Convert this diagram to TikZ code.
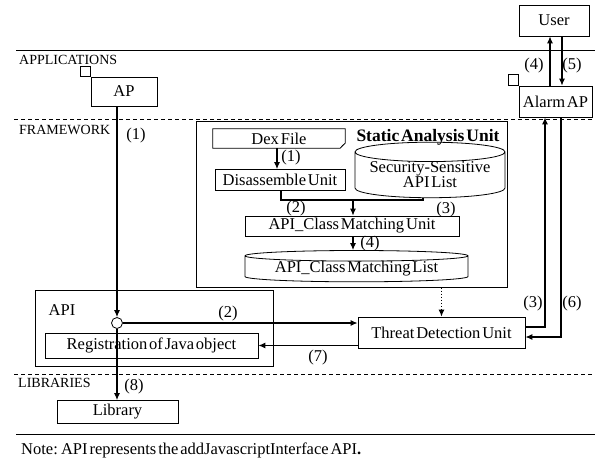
\documentclass[tikz,border=0pt]{standalone}
\usepackage{fontspec}
\setmainfont[WordSpace=0.45]{Liberation Serif}
\usetikzlibrary{arrows.meta,shapes.geometric}

\tikzset{
    box/.style={draw, line width=0.8pt, inner sep=0pt},
    cyl/.style={draw, line width=0.8pt, cylinder, shape border rotate=90, aspect=0.16, inner sep=0pt},
    flow/.style={line width=1.1pt, -{Latex[length=7pt,width=6pt]}},
    plain/.style={line width=1.1pt},
    layer/.style={line width=0.8pt},
    tag/.style={anchor=west, inner sep=0pt, font=\fontsize{14}{16}\selectfont},
    num/.style={inner sep=0pt}
}

\begin{document}
\begin{tikzpicture}[x=1pt, y=-1pt, font=\fontsize{16.5}{18}\selectfont]
    \useasboundingbox (0,0) rectangle (595,459);

    % layers
    \draw[layer] (16,50) -- (595,50);
    \draw[layer, dash pattern=on 4pt off 3pt] (14,119) -- (595,119);
    \draw[layer, dash pattern=on 4pt off 3pt] (14,374) -- (595,374);
    \draw[layer] (16,434) -- (595,434);
    \node[tag] (lapp) at (19,60) {APPLICATIONS};
    \node[tag] (lfw) at (19,130) {FRAMEWORK};
    \node[tag] (llib) at (18,383) {LIBRARIES};
    \node[anchor=west, inner sep=0pt] (note) at (21,450) {Note: API represents the addJavascriptInterface API\textbf{.}};

    % applications
    \node[box, minimum width=70, minimum height=31] (user) at (554,20.5) {User};
    \node[box, minimum width=73, minimum height=31] (alarm) at (555.5,101.5) {Alarm AP};
    \draw[line width=0.8pt] (alarm.north west) rectangle ++(-10,-11);
    \node[box, minimum width=66, minimum height=29] (ap) at (124,91.5) {AP};
    \draw[line width=0.8pt] (ap.north west) rectangle ++(-10,-10);

    % static analysis unit
    \node[box, minimum width=311, minimum height=166] (sau) at (351.5,204) {};
    \node[num, font=\fontsize{17.5}{19}\selectfont\bfseries] (saut) at (428,137) {Static Analysis Unit};
    \node[minimum width=132, minimum height=19, inner sep=0pt] (dex) at (279,138.5) {Dex File};
    \draw[line width=0.8pt] (dex.north west) -- (dex.north east) -- ([yshift=5pt]dex.south east)
        -- ([xshift=-5pt]dex.south east) -- (dex.south west) -- cycle;
    \fill ([yshift=5pt]dex.south east) -- ([xshift=-5pt]dex.south east) -- ([xshift=-3pt,yshift=3pt]dex.south east) -- cycle;
    \node[box, minimum width=130, minimum height=21] (disasm) at (280,180) {Disassemble Unit};
    \node[cyl, minimum width=150, minimum height=44, align=center] (secapi) at (430,175)
        {Security-Sensitive\\[-3pt]API List};
    \node[box, minimum width=214, minimum height=20] (matchunit) at (352,226) {API\_Class Matching Unit};
    \node[cyl, aspect=0.065, minimum width=223, minimum height=30] (matchlist) at (356.5,269) {API\_Class Matching List};

    \coordinate (jn) at (353,200);
    \draw[flow] ([xshift=-2pt]dex.south) -- ([xshift=-3pt]disasm.north);
    \draw[plain] ([xshift=1pt]disasm.south) |- (jn) -| ([xshift=-7pt]secapi.south);
    \draw[flow] (jn) -- (matchunit.north -| jn);
    \draw[flow] (matchunit.south -| jn) -- (matchlist.north -| jn);
    \node[num] (s1) at (291,158) {(1)};
    \node[num] (s2) at (296,209) {(2)};
    \node[num] (s3) at (446,210) {(3)};
    \node[num] (s4) at (370,244) {(4)};

    % framework
    \node[box, minimum width=167, minimum height=31] (tdu) at (441.5,332.5) {Threat Detection Unit};
    \node[box, minimum width=238, minimum height=76] (apibox) at (154,328) {};
    \node[num] (apit) at (62,310) {API};
    \node[box, minimum width=213, minimum height=25] (reg) at (151.5,345.5) {Registration of Java object};
    \node[draw, line width=0.8pt, circle, minimum size=11, inner sep=0pt, fill=white] (hook) at (117,323) {};
    \node[box, minimum width=121, minimum height=23] (lib) at (117.5,412) {Library};

    \draw[flow, dotted] (sau.south -| tdu.north) -- (tdu.north);
    \draw[flow] (ap.south -| hook) -- (hook);
    \draw[flow] (hook) -- (tdu.west |- hook);
    \draw[flow] (tdu.west |- reg) -- (reg.east);
    \draw[flow] (hook) -- (lib.north -| hook);
    \draw[flow] ([yshift=5.5pt]tdu.east) -| ([xshift=-10.5pt]alarm.south);
    \draw[flow] ([xshift=5.5pt]alarm.south) |- ([yshift=-4.5pt]tdu.east);
    \draw[flow] ([xshift=-5.5pt]alarm.north) -- ([xshift=-5.5pt]alarm.north |- user.south);
    \draw[flow] ([xshift=6.5pt]alarm.north |- user.south) -- ([xshift=6.5pt]alarm.north);

    \node[num] (f1) at (136,136) {(1)};
    \node[num] (f2) at (228,314) {(2)};
    \node[num] (f7) at (318,358) {(7)};
    \node[num] (f8) at (134,387) {(8)};
    \node[num] (f3) at (533,304) {(3)};
    \node[num] (f6) at (572,304) {(6)};
    \node[num] (f4) at (534,66) {(4)};
    \node[num] (f5) at (572,66) {(5)};
\end{tikzpicture}
\end{document}
